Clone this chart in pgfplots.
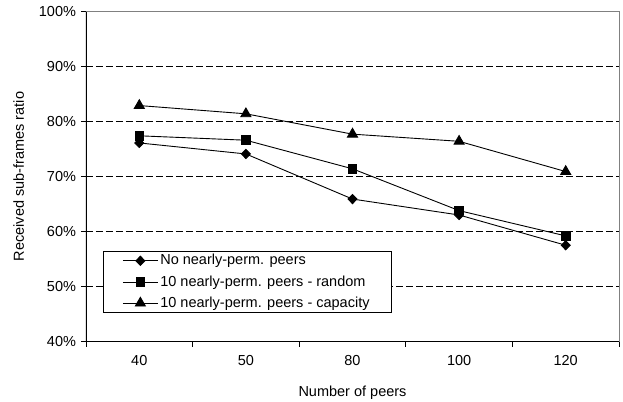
\documentclass[border=0pt]{standalone}
\usepackage{pgfplots}
\pgfplotsset{compat=1.18}
\usepackage{fontspec}
\setmainfont{Liberation Sans}
\begin{document}
\fontsize{14.5bp}{17bp}\selectfont
\begin{tikzpicture}
\useasboundingbox (-86bp,-60.5bp) rectangle (537bp,341.5bp);
\begin{axis}[
  at={(0,0)}, anchor=south west,
  scale only axis, width=533bp, height=330bp,
  xmin=-0.5, xmax=4.5, ymin=40, ymax=100,
  /pgf/number format/assume math mode=true,
  xtick={0,1,2,3,4},
  xticklabels={40,50,80,100,120},
  minor xtick={-0.5,0.5,1.5,2.5,3.5,4.5},
  ytick={40,50,60,70,80,90,100},
  yticklabel={\pgfmathprintnumber{\tick}\%},
  tick pos=left, tick align=outside,
  major tick length=5bp, minor tick length=5bp,
  every tick/.style={black, line width=0.8bp},
  major x tick style={draw=none},
  xticklabel style={yshift=-4bp},
  ymajorgrids,
  major grid style={black, line width=0.7bp, dash pattern=on 7bp off 3bp},
  axis line style={draw=gray, line width=0.8bp},
  xlabel={Number of peers},
  xlabel style={yshift=-10bp},
  ylabel={Received sub-frames ratio},
  ylabel style={yshift=5bp},
  legend style={at={(rel axis cs:0.031,0.274)}, anchor=north west,
    draw=black, line width=0.8bp, inner sep=0bp, inner xsep=19.5bp, inner ysep=1bp,
    row sep=4.5bp, cells={anchor=west}},
  legend image code/.code={\draw[mark repeat=2, mark phase=2] plot coordinates {(4bp,0bp) (21.5bp,0bp) (39bp,0bp)};},
]
\addplot[black, line width=0.9bp, mark=diamond*, mark size=4.6bp, mark options={xscale=1.3, solid}] coordinates {
  (0,76.1) (1,74.1) (2,65.9) (3,63.0) (4,57.5)};
\addlegendentry{No nearly-perm. peers}
\addplot[black, line width=0.9bp, mark=square*, mark size=4.3bp, mark options={solid}] coordinates {
  (0,77.4) (1,76.6) (2,71.4) (3,63.8) (4,59.2)};
\addlegendentry{10 nearly-perm. peers - random}
\addplot[black, line width=0.9bp, mark=triangle*, mark size=5.8bp, mark options={solid}] coordinates {
  (0,82.9) (1,81.4) (2,77.7) (3,76.4) (4,70.9)};
\addlegendentry{10 nearly-perm. peers - capacity}
\draw[black, line width=1.1bp] (rel axis cs:0,1) -- (rel axis cs:0,0) -- (rel axis cs:1,0);
\end{axis}
\end{tikzpicture}
\end{document}
